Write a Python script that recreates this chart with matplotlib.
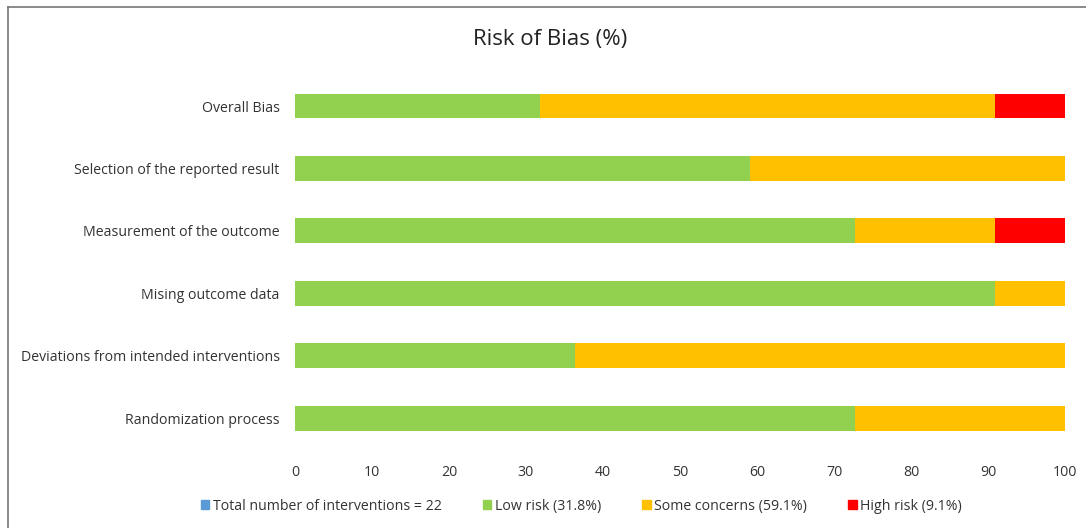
import matplotlib.pyplot as plt
from matplotlib.patches import Patch
from matplotlib.lines import Line2D

plt.rcParams['font.family'] = ['Open Sans', 'DejaVu Sans']

domains = ["Randomization process", "Deviations from intended interventions",
           "Mising outcome data", "Measurement of the outcome",
           "Selection of the reported result", "Overall Bias"]
low_risk = [72.7, 36.4, 90.9, 72.7, 59.1, 31.8]
some_concerns = [27.3, 63.6, 9.1, 18.2, 40.9, 59.1]
high_risk = [0, 0, 0, 9.1, 0, 9.1]
legend_labels = ["Total number of interventions = 22", "Low risk (31.8%)",
                 "Some concerns (59.1%)", "High risk (9.1%)"]

c_total = "#5B9BD5"
c_low = "#92D050"
c_some = "#FFC000"
c_high = "#FF0000"

fig = plt.figure(figsize=(10.86, 5.28), dpi=100)
ax = fig.add_axes([0.2716, 0.1492, 0.7091, 0.7091])

y = range(len(domains))
ax.barh(y, low_risk, height=0.4, color=c_low)
left2 = low_risk
ax.barh(y, some_concerns, left=left2, height=0.4, color=c_some)
left3 = [a + b for a, b in zip(low_risk, some_concerns)]
ax.barh(y, high_risk, left=left3, height=0.4, color=c_high)

ax.set_xlim(0, 100)
ax.set_ylim(-0.5, 5.5)
ax.set_xticks(range(0, 101, 10))
ax.set_yticks(list(y))
ax.set_yticklabels(domains)
ax.tick_params(length=0, labelsize=10.2, colors="#333333")
ax.tick_params(axis="y", pad=11)
ax.tick_params(axis="x", pad=11)
for s in ax.spines.values():
    s.set_visible(False)

fig.text(0.5066, 0.925, "Risk of Bias (%)", ha="center", va="center",
         fontsize=16, color="#222222")

handles = [Patch(color=c) for c in (c_total, c_low, c_some, c_high)]
fig.legend(handles, legend_labels, loc="center", bbox_to_anchor=(0.5355, 0.041),
           ncol=4, frameon=False, fontsize=10.2, handlelength=0.6, handleheight=0.6,
           handletextpad=0.25, columnspacing=2.9, labelcolor="#333333")

# outer frame (left and top edges)
fig.add_artist(Line2D([8 / 1086, 8 / 1086], [0, 1 - 7 / 528], color="#777777", lw=1.2))
fig.add_artist(Line2D([8 / 1086, 1], [1 - 7 / 528, 1 - 7 / 528], color="#777777", lw=1.2))

fig.savefig("out.png", dpi=100, facecolor="white")
